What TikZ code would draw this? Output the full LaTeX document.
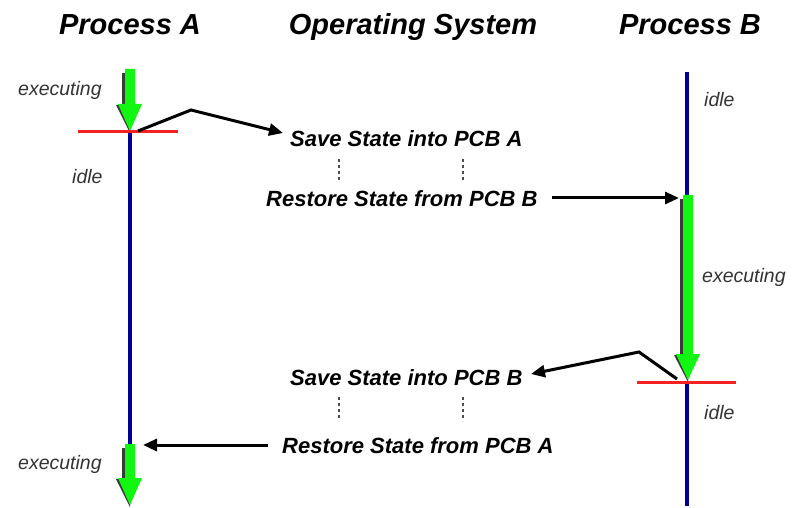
\documentclass[tikz,border=0pt]{standalone}
\usepackage{fontspec}
\setmainfont{Liberation Sans}
\usetikzlibrary{arrows.meta}
\definecolor{navyline}{HTML}{000099}
\definecolor{redline}{HTML}{F52020}
\definecolor{greenarr}{HTML}{11F711}
\definecolor{shadowc}{HTML}{3A3A3A}
\definecolor{labelc}{HTML}{333333}
\newcommand\gArrow[4]{%
  \fill[shadowc] ({#1-8},{#2+4}) rectangle ({#1-4},#3);
  \fill[shadowc] ({#1-14},{#3+1}) -- ({#1-11},{#3+1}) -- (#1,{#4-1}) -- (#1,{#4+2}) -- cycle;
  \fill[greenarr] ({#1-5},#2) -- ({#1+5},#2) -- ({#1+5},#3) -- ({#1+12},#3) -- (#1,#4) -- ({#1-12},#3) -- ({#1-5},#3) -- cycle;
}
\tikzset{
  header/.style={font=\fontsize{29}{32}\selectfont\bfseries\itshape, inner sep=0pt, anchor=base},
  step text/.style={font=\fontsize{22}{25}\selectfont\bfseries\itshape, inner sep=0pt, anchor=base west},
  state/.style={font=\fontsize{19.5}{22}\selectfont\itshape, text=labelc, inner sep=0pt, anchor=base west},
  timeline/.style={draw=navyline, line width=3.5pt},
  switch/.style={draw=redline, line width=3pt},
  call/.style={draw=black, line width=3pt, -{Triangle[length=14pt,width=12pt]}},
  gap/.style={draw=gray!60!black, line width=2pt, dash pattern=on 3pt off 3pt},
}
\begin{document}
\begin{tikzpicture}[x=1pt,y=-1pt]
\useasboundingbox (0,0) rectangle (801,508);
\fill[white] (0,0) rectangle (801,508);

% headers
\node[header] (hA) at (130,35) {Process A};
\node[header] (hOS) at (413,35) {Operating System};
\node[header] (hB) at (690,35) {Process B};

% timelines
\coordinate (Atop) at (130,132);
\coordinate (Abot) at (130,446);
\coordinate (Btop) at (687,72);
\coordinate (Bmid) at (687,196);
\coordinate (Bsw) at (687,382);
\coordinate (Bbot) at (687,506);
\draw[timeline] (Atop) -- (Abot);
\draw[timeline] (Btop) -- (Bmid);
\draw[timeline] (Bsw) -- (Bbot);

% green executing arrows
\gArrow{130}{69}{104}{131}
\gArrow{130}{444}{478}{505}
\gArrow{688}{195}{354}{380}

% red switch markers
\coordinate (rA1) at (78,132); \coordinate (rA2) at (178,132);
\coordinate (rB1) at (637,382); \coordinate (rB2) at (736,382);
\draw[switch] (rA1) -- (rA2);
\draw[switch] (rB1) -- (rB2);

% state labels
\node[state] (exA1) at (18,96) {executing};
\node[state] (idA) at (72,183) {idle};
\node[state] (idB1) at (704,107) {idle};
\node[state] (exB) at (702,282) {executing};
\node[state] (idB2) at (704,419) {idle};
\node[state] (exA2) at (18,469) {executing};

% OS steps
\node[step text] (saveA) at (290,147) {Save State into PCB A};
\node[step text] (restB) at (266,207) {Restore State from PCB B};
\node[step text] (saveB) at (290,385) {Save State into PCB B};
\node[step text] (restA) at (282,453) {Restore State from PCB A};

% dotted gaps
\draw[gap] (339,159) -- (339,183);
\draw[gap] (463,159) -- (463,183);
\draw[gap] (339,397) -- (339,421);
\draw[gap] (463,397) -- (463,421);

% calls
\coordinate (c1s) at (138,131);
\coordinate (c1m) at (191,110);
\coordinate (c1e) at (283,133);
\draw[call] (c1s) -- (c1m) -- (c1e);
\coordinate (c2s) at (552,198);
\coordinate (c2e) at (679,198);
\draw[call] (c2s) -- (c2e);
\coordinate (c3s) at (677,379);
\coordinate (c3m) at (639,352);
\coordinate (c3e) at (531,374);
\draw[call] (c3s) -- (c3m) -- (c3e);
\coordinate (c4s) at (268,445);
\coordinate (c4e) at (143,445);
\draw[call] (c4s) -- (c4e);
\end{tikzpicture}
\end{document}
